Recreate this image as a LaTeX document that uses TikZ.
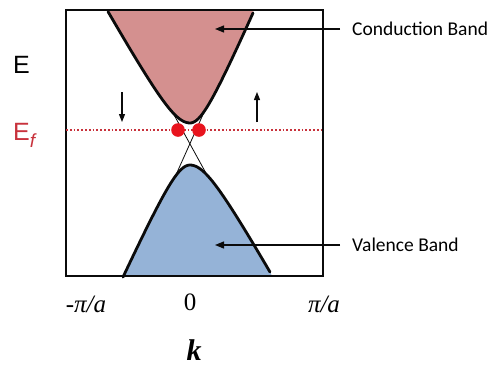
\documentclass[tikz,border=0pt]{standalone}
\usepackage{fontspec}
\setmainfont{Liberation Serif}
\newfontfamily\labelfont{Carlito}
\newfontfamily\axisfont{Liberation Sans}
\usetikzlibrary{arrows.meta,positioning}
\definecolor{condfill}{HTML}{D4908F}
\definecolor{valfill}{HTML}{95B3D7}
\definecolor{fermired}{HTML}{C8323C}
\definecolor{dotred}{HTML}{E8141E}
\definecolor{ink}{HTML}{0B0B0B}

\begin{document}
\begin{tikzpicture}[x=1pt,y=-1pt,
    band/.style={ink,line width=2.8pt,line join=round,line cap=round},
    cone/.style={ink,line width=0.8pt},
    bandlabel/.style={font=\labelfont\fontsize{19.5}{22}\selectfont,anchor=west,inner xsep=12pt,inner ysep=0pt},
    pointer/.style={ink,line width=1.2pt,-{Triangle[length=9pt,width=7pt]}},
    spin/.style={ink,line width=1.1pt,-{Triangle[length=8pt,width=6pt]}}]
  \useasboundingbox (0,0) rectangle (490,373);
  % Dirac cone lines under the bands
  \draw[cone] (173,113) -- (207,175);
  \draw[cone] (205,110) -- (175,177);
  % conduction band
  \fill[condfill] plot[domain=108:190,samples=40] ({\x},{163-40*sqrt(1+(1.781*(\x-190)/40)^2)})
    -- plot[domain=190:253,samples=40] ({\x},{163-40*sqrt(1+(2.295*(\x-190)/40)^2)})
    -- (253,10) -- (108,10) -- cycle;
  \draw[band] plot[domain=108:190,samples=40] ({\x},{163-40*sqrt(1+(1.781*(\x-190)/40)^2)})
    -- plot[domain=190:253,samples=40] ({\x},{163-40*sqrt(1+(2.295*(\x-190)/40)^2)});
  % valence band
  \fill[valfill] plot[domain=123:190,samples=40] ({\x},{125+40*sqrt(1+(2.19*(\x-190)/40)^2)})
    -- plot[domain=190:270,samples=40] ({\x},{125+40*sqrt(1+(1.768*(\x-190)/40)^2)})
    -- (272,276) -- (123,276) -- cycle;
  \draw[band] plot[domain=123:190,samples=40] ({\x},{125+40*sqrt(1+(2.19*(\x-190)/40)^2)})
    -- plot[domain=190:270,samples=40] ({\x},{125+40*sqrt(1+(1.768*(\x-190)/40)^2)});
  % frame
  \draw[ink,line width=1.6pt] (66,10) rectangle (323,276);
  % Fermi level
  \draw[fermired,line width=1.8pt,dash pattern=on 1.8pt off 2pt] (66,130) -- (323,130);
  \foreach \x in {178,199}
    \fill[dotred] (\x,130) circle (6.8pt);
  % spin arrows
  \coordinate (downtop) at (122,92);
  \coordinate (downend) at (122,122);
  \coordinate (uptop) at (257,92);
  \coordinate (upend) at (257,122);
  \draw[spin] (downtop) -- (downend);
  \draw[spin] (upend) -- (uptop);
  % band labels
  \node[bandlabel] (cond) at (340,29) {Conduction Band};
  \node[bandlabel] (val) at (340,245) {Valence Band};
  \coordinate (condtip) at (215,29);
  \coordinate (valtip) at (215,245);
  \draw[pointer] (cond.west) -- (condtip);
  \draw[pointer] (val.west) -- (valtip);
  % axis labels
  \node[font=\axisfont\fontsize{25}{30}\selectfont,anchor=base west,inner sep=0pt] (E) at (13,73) {E};
  \node[font=\axisfont\fontsize{25}{30}\selectfont,anchor=base west,inner sep=0pt,text=fermired] (Ef) at (13,140)
    {E\raisebox{-0.28em}{\fontsize{19}{20}\selectfont\itshape f}};
  \node[font=\fontsize{25}{30}\selectfont\itshape,anchor=base,inner sep=0pt] (kmin) at (86,312) {-π/a};
  \node[font=\fontsize{25}{30}\selectfont,anchor=base,inner sep=0pt] (kzero) at (190,310) {0};
  \node[font=\fontsize{25}{30}\selectfont\itshape,anchor=base,inner sep=0pt] (kmax) at (324,312) {π/a};
  \node[font=\fontsize{30}{34}\selectfont\bfseries\itshape,anchor=base,inner sep=0pt] (k) at (194,360) {k};
\end{tikzpicture}
\end{document}
